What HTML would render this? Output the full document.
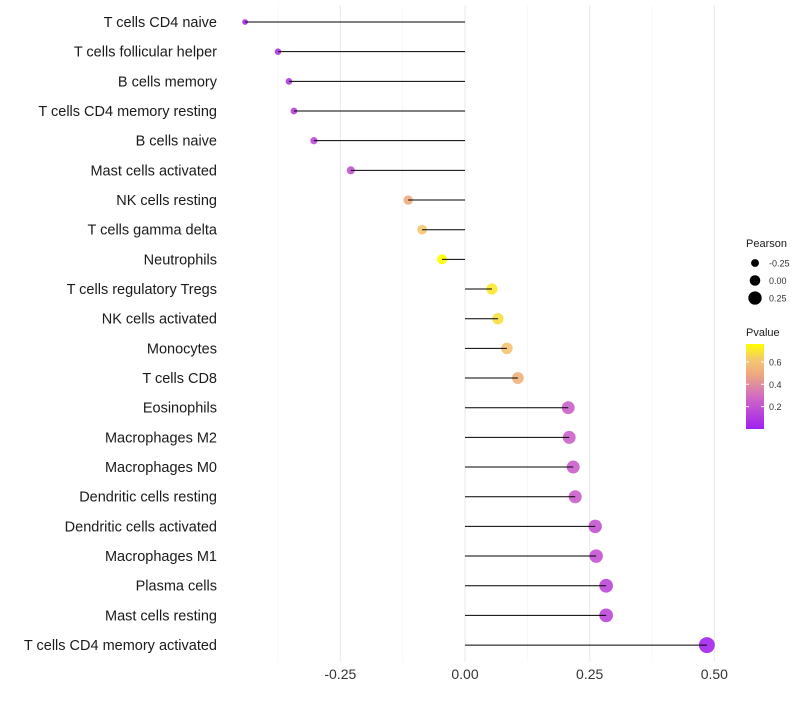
<!DOCTYPE html>
<html><head><meta charset="utf-8"><style>
body{margin:0;background:#fff;font-family:"Liberation Sans",sans-serif}
</style></head><body>
<svg id="chart" width="800" height="700" xmlns="http://www.w3.org/2000/svg" font-family="Liberation Sans, sans-serif"></svg>
<script>
const categories=["T cells CD4 naive","T cells follicular helper","B cells memory","T cells CD4 memory resting","B cells naive","Mast cells activated","NK cells resting","T cells gamma delta","Neutrophils","T cells regulatory  Tregs ","NK cells activated","Monocytes","T cells CD8","Eosinophils","Macrophages M2","Macrophages M0","Dendritic cells resting","Dendritic cells activated","Macrophages M1","Plasma cells","Mast cells resting","T cells CD4 memory activated"];
const pearson=[-0.441,-0.375,-0.353,-0.343,-0.303,-0.229,-0.114,-0.086,-0.046,0.054,0.066,0.084,0.106,0.207,0.209,0.217,0.221,0.261,0.263,0.283,0.283,0.485];
const pvalue=[0.04,0.08,0.1,0.12,0.16,0.2,0.5,0.62,0.76,0.7,0.68,0.6,0.52,0.25,0.25,0.24,0.24,0.2,0.2,0.15,0.15,0.02];
const xTicks=[-0.25,0,0.25,0.5];
const xTickLabels=["-0.25","0.00","0.25","0.50"];
const sizeLegend=[-0.25,0,0.25];
const pLegendTicks=[0.2,0.4,0.6];
const NS="http://www.w3.org/2000/svg";
const svg=document.getElementById('chart');
function el(t,a,p){const e=document.createElementNS(NS,t);for(const k in a)e.setAttribute(k,a[k]);(p||svg).appendChild(e);return e;}
const x=v=>465+v*498.7;
const y=i=>22+i*29.67;
const r=v=>5.3+5.5*v;
const pMax=0.76;
const stops=[[0,[160,32,240]],[0.35,[206,100,200]],[0.65,[238,170,128]],[0.82,[245,200,110]],[1,[255,255,0]]];
function col(p){const t=Math.max(0,Math.min(1,p/pMax));
 for(let k=1;k<stops.length;k++){if(t<=stops[k][0]){const a=stops[k-1],b=stops[k];const f=(t-a[0])/(b[0]-a[0]);
  return `rgb(${a[1].map((v,i)=>Math.round(v+(b[1][i]-v)*f))})`;}}
 return 'rgb(255,255,0)';}
[-0.375,-0.125,0.125,0.375].forEach(v=>{const g=el('line',{x1:x(v),x2:x(v),y1:5,y2:662,stroke:'#f3f3f3','stroke-width':0.6});});
xTicks.forEach((v,i)=>{const g=el('line',{x1:x(v),x2:x(v),y1:5,y2:662,stroke:'#ebebeb','stroke-width':1.1});
 const t=el('text',{x:x(v),y:679,'text-anchor':'middle','font-size':14,fill:'#333'});t.textContent=xTickLabels[i];});
categories.forEach((c,i)=>{
 const t=el('text',{x:217,y:y(i)+5,'text-anchor':'end','font-size':14.5,fill:'#1a1a1a'});t.textContent=c;
 
 
 const p=el('circle',{cx:x(pearson[i]),cy:y(i),r:r(pearson[i]),fill:col(pvalue[i]),'fill-opacity':0.9});
 
 
 const l=el('line',{x1:x(0),x2:x(pearson[i]),y1:y(i),y2:y(i),stroke:'#000','stroke-width':1});
 
 
});
let t=el('text',{x:746,y:247,'font-size':11,fill:'#1a1a1a'});t.textContent='Pearson';
sizeLegend.forEach((v,i)=>{const cy=263+i*17.5;const c=el('circle',{cx:755,cy:cy,r:r(v),fill:'#000'});
 const tt=el('text',{x:769,y:cy+3.5,'font-size':9,fill:'#333'});tt.textContent=v.toFixed(2);});
t=el('text',{x:746,y:336,'font-size':11,fill:'#1a1a1a'});t.textContent='Pvalue';
const defs=el('defs',{});const lg=el('linearGradient',{id:'pg',x1:0,y1:1,x2:0,y2:0},defs);
stops.forEach(s=>el('stop',{offset:s[0],'stop-color':`rgb(${s[1]})`},lg));
const bar=el('rect',{x:746,y:344,width:18,height:85,fill:'url(#pg)'});
pLegendTicks.forEach(v=>{const yy=429-v/pMax*85;el('line',{x1:746,x2:749,y1:yy,y2:yy,stroke:'#fff'});el('line',{x1:761,x2:764,y1:yy,y2:yy,stroke:'#fff'});
 const tt=el('text',{x:769,y:yy+3.5,'font-size':9,fill:'#333'});tt.textContent=v.toFixed(1);});
</script>
</body></html>
